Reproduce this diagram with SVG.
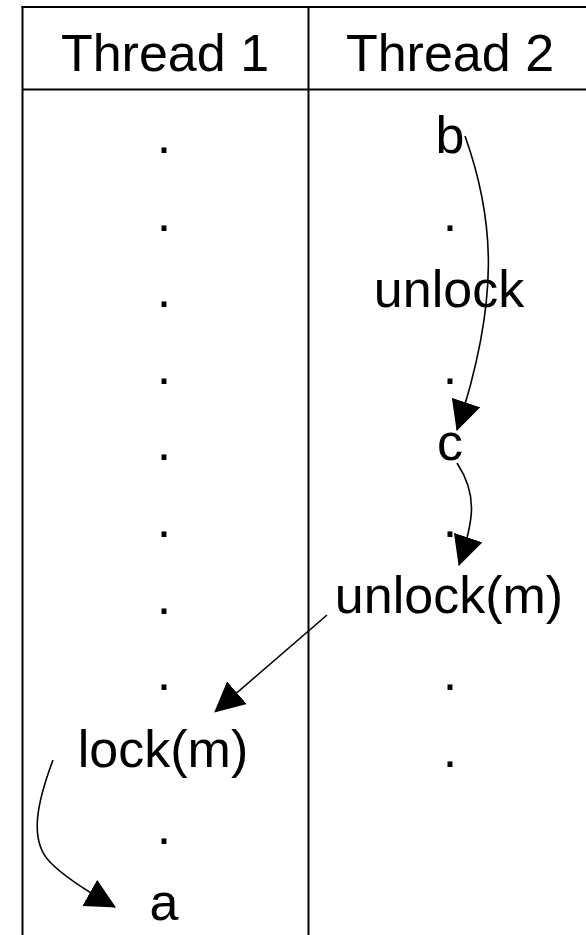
<svg xmlns="http://www.w3.org/2000/svg" width="586" height="935" viewBox="0 0 586 935">
<style>
  .grid { stroke: #000; stroke-width: 2; fill: none; }
  text { font-family: "Liberation Sans", Arial, sans-serif; font-size: 52px; fill: #000; text-anchor: middle; }
  .conn { stroke: #000; stroke-width: 1.6; fill: none; marker-end: url(#arrow); }
</style>
<defs>
  <marker id="arrow" markerUnits="userSpaceOnUse" markerWidth="30" markerHeight="30" viewBox="0 -14 28 28" refX="27" refY="0" orient="auto">
    <path d="M0,-14 L28,0 L0,14 Z" fill="#000"/>
  </marker>
</defs>
<rect width="586" height="935" fill="#fff"/>
<g id="table">
  <line class="grid" x1="21.5" y1="7" x2="586" y2="7"/>
  <line class="grid" x1="22.5" y1="89.5" x2="586" y2="89.5"/>
  <line class="grid" x1="22.5" y1="6" x2="22.5" y2="935"/>
  <line class="grid" x1="308.5" y1="6" x2="308.5" y2="935"/>
</g>
<g id="header1"><text x="165" y="71">Thread 1</text></g>
<g id="header2"><text x="450" y="71">Thread 2</text></g>
<g id="thread1">
  <text x="164" y="153.3">.</text>
  <text x="164" y="230.5">.</text>
  <text x="164" y="306.7">.</text>
  <text x="164" y="383.5">.</text>
  <text x="164" y="460">.</text>
  <text x="164" y="537">.</text>
  <text x="164" y="613.5">.</text>
  <text x="164" y="690">.</text>
  <g id="lockm"><text x="163" y="766.7">lock(m)</text></g>
  <text x="164" y="844">.</text>
  <g id="a"><text x="164" y="920">a</text></g>
</g>
<g id="thread2">
  <g id="b"><text x="450" y="153.3">b</text></g>
  <text x="450" y="230.5">.</text>
  <g id="unlock"><text x="449" y="306.7">unlock</text></g>
  <text x="450" y="383.5">.</text>
  <g id="c"><text x="450" y="460">c</text></g>
  <text x="450" y="537">.</text>
  <g id="unlockm"><text x="449" y="613.3">unlock(m)</text></g>
  <text x="450" y="690">.</text>
  <text x="450" y="766.7">.</text>
</g>
<g id="connectors">
  <path class="conn" d="M465,136 C495,220 500,300 457,430"/>
  <path class="conn" d="M457,463 C478,495 474,520 459,565"/>
  <path class="conn" d="M327,615 L215,711.7"/>
  <path class="conn" d="M53,760 C38,800 28,840 50,862 C65,878 90,893 115,907"/>
</g>
</svg>
